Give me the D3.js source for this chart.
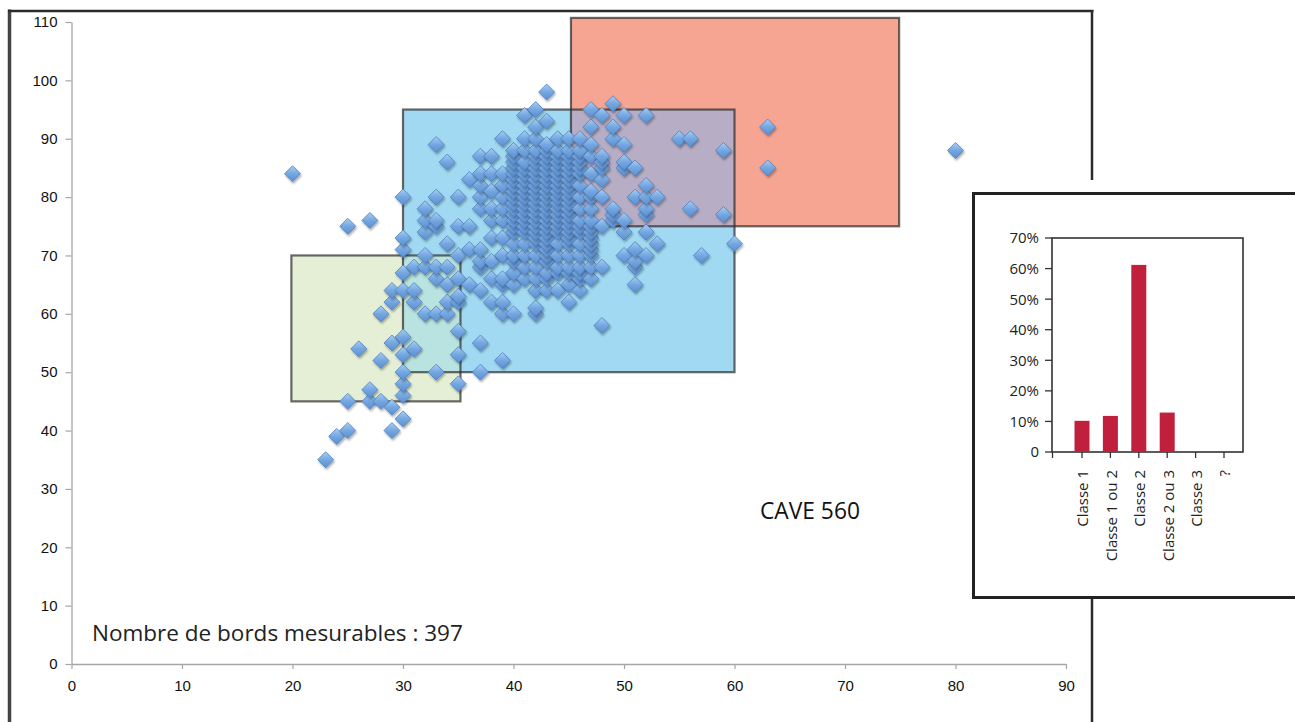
<!DOCTYPE html>
<html><head><meta charset="utf-8">
<script src="https://cdn.jsdelivr.net/npm/d3@7"></script>
<style>body{margin:0;background:#fff;} svg{display:block}</style>
</head><body><svg id="c" width="1295" height="722"></svg>
<script>
// ---------- DATA ----------
const xTicks = [0,10,20,30,40,50,60,70,80,90];
const yTicks = [0,10,20,30,40,50,60,70,80,90,100,110];

// zones (data units)
const zoneNames = ["Classe 1","Classe 2","Classe 3"];
const zoneX0 = [19.9,30,45.2];
const zoneX1 = [35.2,60,74.9];
const zoneY0 = [45,50,75];
const zoneY1 = [70,95,110.7];

// scatter points, grouped by x value
const colX = [20,23,24,25,26,27,28,29,30,31,32,33,34,35,36,37,38,39,40,41,42,43,44,45,46,47,48,49,50,51,52,53,55,56,57,59,60,63,80];
const colY = [
 [84],[35],[39],[40,45,75],[54],[45,47,76],[45,52,60],[40,44,55,62,64],
 [42,46,48,50,53,56,64,67,71,73,80],
 [54,62,64,68],
 [60,68,70,74,76,78],
 [50,60,66,68,75,76,80,89],
 [60,62,65,68,72,86],
 [48,53,57,62,63,66,70,75,80],
 [65,71,75,83],
 [50,55,64,68,69,71,78,80,82,84,87],
 [62,66,69,73,76,78,81,84,87],
 [52,60,62,65,66,70,73,76,78,80,82,84,90],
 [60,65,67,69,70,72,74,75,76,77,78,79,80,81,82,83,84,85,86,87,88],
 [66,68,70,72,74,75,76,77,78,79,80,81,82,83,84,85,86,88,90,94],
 [60,61,64,66,68,70,72,73,74,75,76,77,78,79,80,81,82,83,84,85,86,87,88,90,92,95],
 [64,66,67,69,70,71,72,73,74,75,76,77,78,79,80,81,82,83,84,85,86,87,88,89,93,98],
 [64,67,68,70,72,74,75,76,77,78,79,80,81,82,83,84,85,86,87,88,90],
 [62,65,67,68,70,72,73,74,75,76,77,78,79,80,81,82,83,84,85,86,87,88,90],
 [64,66,67,68,70,72,74,75,76,78,80,82,84,85,86,87,88,90],
 [66,68,70,71,72,73,74,75,76,78,80,81,84,87,89,92,95],
 [58,68,75,80,83,85,86,87,94],
 [76,77,78,90,92,96],
 [70,74,76,85,86,89,94],
 [65,68,69,71,80,85],
 [70,74,77,78,80,82,94],
 [72,80],[90],[78,90],[70],[77,88],[72],[85,92],[88]
];

const annotation = "Nombre de bords mesurables : 397";
const caveLabel = "CAVE 560";

// inset bar chart
const barCats = ["Classe 1","Classe 1 ou 2","Classe 2","Classe 2 ou 3","Classe 3","?"];
const barVals = [10.2, 11.8, 61.2, 12.9, 0, 0];
const insetTicks = [0,10,20,30,40,50,60,70];
const insetTickLabels = ["0","10%","20%","30%","40%","50%","60%","70%"];

// ---------- STYLE ----------
const zoneFill = ["#e5efd6","#a0d9f1","#f6a593"];
const overlapFill = {"0-1":"#b9e3e0","1-2":"#b7aec6"};
const axisFont = "'Liberation Sans', Arial, sans-serif";
const textFont = "'Open Sans', 'Noto Sans', sans-serif";

// ---------- DRAW ----------
const svg = d3.select("#c");
const defs = svg.append("defs");
const grad = defs.append("linearGradient").attr("id","dg").attr("x1",0).attr("y1",0).attr("x2",0).attr("y2",1);
grad.append("stop").attr("offset","0%").attr("stop-color","#a9cff4");
grad.append("stop").attr("offset","50%").attr("stop-color","#74a7e0");
grad.append("stop").attr("offset","100%").attr("stop-color","#5b8fd2");
const f = defs.append("filter").attr("id","sh").attr("x","-50%").attr("y","-50%").attr("width","200%").attr("height","200%");
f.append("feDropShadow").attr("dx",1).attr("dy",2).attr("stdDeviation",1.1).attr("flood-color","#000").attr("flood-opacity",0.32);

const x = d3.scaleLinear().domain([0,90]).range([71.5,1066]);
const y = d3.scaleLinear().domain([0,110]).range([664,22]);

// outer frame
const frame = svg.append("g").attr("stroke","#2b2b2b").attr("fill","none");
frame.append("line").attr("x1",9.5).attr("x2",9.5).attr("y1",9.5).attr("y2",722).attr("stroke-width",3.5).attr("stroke","#444");
frame.append("line").attr("x1",8).attr("x2",1093.5).attr("y1",11).attr("y2",11).attr("stroke-width",2.5);
frame.append("line").attr("x1",1092).attr("x2",1092).attr("y1",10).attr("y2",180).attr("stroke-width",2.5);
frame.append("line").attr("x1",1092).attr("x2",1092).attr("y1",598).attr("y2",722).attr("stroke-width",2.5);

// zones fills
const zones = zoneNames.map((n,i)=>({n,i,x0:zoneX0[i],x1:zoneX1[i],y0:zoneY0[i],y1:zoneY1[i]}));
const zg = svg.append("g");
zg.selectAll("rect.z").data([zones[1],zones[0],zones[2]]).join("rect").attr("class","z")
  .attr("x",d=>x(d.x0)).attr("y",d=>y(d.y1)).attr("width",d=>x(d.x1)-x(d.x0)).attr("height",d=>y(d.y0)-y(d.y1))
  .attr("fill",d=>zoneFill[d.i]);
// overlaps
const overlaps = [];
[[0,1],[1,2]].forEach(([a,b])=>{
  const A=zones[a],B=zones[b];
  const ox0=Math.max(A.x0,B.x0), ox1=Math.min(A.x1,B.x1), oy0=Math.max(A.y0,B.y0), oy1=Math.min(A.y1,B.y1);
  if(ox1>ox0&&oy1>oy0) overlaps.push({k:a+"-"+b,x0:ox0,x1:ox1,y0:oy0,y1:oy1});
});
zg.selectAll("rect.o").data(overlaps).join("rect").attr("class","o")
  .attr("x",d=>x(d.x0)).attr("y",d=>y(d.y1)).attr("width",d=>x(d.x1)-x(d.x0)).attr("height",d=>y(d.y0)-y(d.y1))
  .attr("fill",d=>overlapFill[d.k]);
zg.selectAll("rect.b").data([zones[1],zones[0],zones[2]]).join("rect").attr("class","b")
  .attr("x",d=>x(d.x0)).attr("y",d=>y(d.y1)).attr("width",d=>x(d.x1)-x(d.x0)).attr("height",d=>y(d.y0)-y(d.y1))
  .attr("fill","none").attr("stroke","#2a2a2a").attr("stroke-opacity",0.7).attr("stroke-width",2.2);

// axes
const ax = svg.append("g").attr("transform","translate(0,664)")
  .call(d3.axisBottom(x).tickValues(xTicks).tickSize(5).tickSizeOuter(0).tickPadding(11));
const ay = svg.append("g").attr("transform","translate(71.5,0)")
  .call(d3.axisLeft(y).tickValues(yTicks).tickSize(6).tickSizeOuter(0).tickPadding(8));
[ax,ay].forEach(g=>{
  g.select(".domain").attr("stroke","#a6a6a6").attr("stroke-width",1.3);
  g.selectAll(".tick line").attr("stroke","#a6a6a6").attr("stroke-width",1.2);
  g.selectAll(".tick text").attr("font-family",axisFont).attr("font-size",15).attr("fill","#111");
});

// points
const pts = [];
colX.forEach((xv,i)=>colY[i].forEach(yv=>pts.push([xv,yv])));
const diamond = "M0,-8L8,0L0,8L-8,0Z";
svg.append("g").selectAll("path").data(pts).join("path")
  .attr("d",diamond).attr("transform",d=>`translate(${x(d[0])},${y(d[1])})`)
  .attr("fill","url(#dg)").attr("stroke","#4f80c2").attr("stroke-width",0.8).attr("filter","url(#sh)");

// texts
function fitText(t, w){ const L=t.node().getComputedTextLength(); const fs=+t.attr("font-size"); t.attr("font-size", fs*w/L); }
const ann = svg.append("text").attr("x",92).attr("y",641).attr("font-family",textFont).attr("font-size",22).attr("fill","#222").text(annotation);
fitText(ann,371);
const cave = svg.append("text").attr("x",760).attr("y",519).attr("font-family",textFont).attr("font-size",21).attr("fill","#111").text(caveLabel);
fitText(cave,100);

// inset
const ins = svg.append("g");
ins.append("rect").attr("x",973.5).attr("y",193.5).attr("width",340).attr("height",404).attr("fill","#fff").attr("stroke","#222").attr("stroke-width",3);
const iy = d3.scaleLinear().domain([0,70]).range([452,238]);
const ix = d3.scalePoint().domain(barCats).range([1082,1224]);
ins.append("rect").attr("x",1052).attr("y",238).attr("width",191).attr("height",214).attr("fill","none").attr("stroke","#333").attr("stroke-width",1.6);
ins.selectAll("rect.bar").data(barCats.map((c,i)=>({c,v:barVals[i]})).filter(d=>d.v>0)).join("rect").attr("class","bar")
  .attr("x",d=>ix(d.c)-7.5).attr("width",15).attr("y",d=>iy(d.v)).attr("height",d=>iy(0)-iy(d.v)).attr("fill","#c0203c");
ins.selectAll("line.yt").data(insetTicks).join("line").attr("class","yt")
  .attr("x1",1045).attr("x2",1052).attr("y1",d=>iy(d)).attr("y2",d=>iy(d)).attr("stroke","#333").attr("stroke-width",1.3);
ins.selectAll("text.yl").data(insetTicks).join("text").attr("class","yl")
  .attr("x",1039).attr("y",d=>iy(d)).attr("dy","0.36em").attr("text-anchor","end")
  .attr("font-family",textFont).attr("font-size",15).attr("fill","#222").text((d,i)=>insetTickLabels[i]);
const xtPos = [1052.5].concat(barCats.map(c=>ix(c)));
ins.selectAll("line.xt").data(xtPos).join("line").attr("class","xt")
  .attr("x1",d=>d).attr("x2",d=>d).attr("y1",452).attr("y2",458).attr("stroke","#333").attr("stroke-width",1.3);
ins.selectAll("text.xl").data(barCats).join("text").attr("class","xl")
  .attr("transform",d=>`translate(${ix(d)+1},470) rotate(-90)`).attr("dy","0.36em").attr("text-anchor","end")
  .attr("font-family",textFont).attr("font-size",15).attr("fill","#222").text(d=>d);
</script></body></html>
